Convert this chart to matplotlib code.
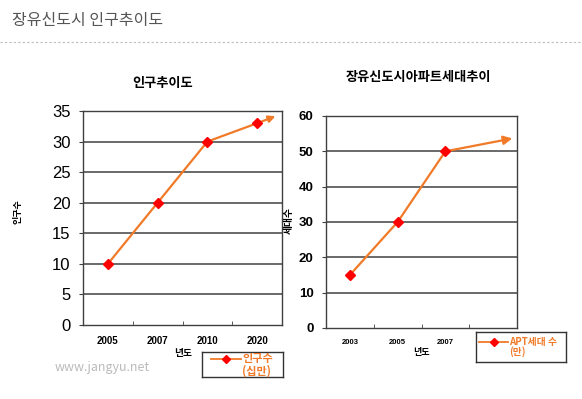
import matplotlib
matplotlib.use("Agg")
import matplotlib.pyplot as plt
from matplotlib.lines import Line2D

plt.rcParams['font.family'] = ['Noto Sans CJK KR', 'DejaVu Sans']

# ---- data ----
pop_years = ["2005", "2007", "2010", "2020"]
pop_values = [10, 20, 30, 33]
pop_arrow_end = 34.3          # value at arrow tip
apt_years = ["2003", "2005", "2007", ""]
apt_values = [15, 30, 50]
apt_arrow_end = 53.8

page_title = "장유신도시 인구추이도"
left_title = "인구추이도"
right_title = "장유신도시아파트세대추이"
left_ylabel = "인구수"
right_ylabel = "세대수"
xlabel = "년도"
left_legend = "인구수\n(십만)"
right_legend = "APT세대 수\n(만)"
watermark = "www.jangyu.net"

LINE = "#F07A28"
MARK = "#FF0000"
GRID = "#505050"

W, H = 582, 399
fig = plt.figure(figsize=(W / 100, H / 100), dpi=100)

def px_axes(x0, y0, x1, y1):
    return fig.add_axes([x0 / W, 1 - y1 / H, (x1 - x0) / W, (y1 - y0) / H])

# header
fig.text(12 / W, 1 - 21 / H, page_title, fontsize=11.5, color="#555555", va="center", ha="left")
fig.add_artist(Line2D([0, 1], [1 - 42 / H, 1 - 42 / H], transform=fig.transFigure,
                      color="#BBBBBB", lw=0.8, ls=(0, (2, 2))))
fig.text(55 / W, 1 - 368 / H, watermark, fontsize=9, color="#BBBBBB", va="center", ha="left")


def style_axes(ax, ymax, ystep, tick_fs, ytick_bold, xtick_fs):
    ax.set_xlim(-0.5, 3.5)
    ax.set_ylim(0, ymax)
    ax.set_yticks(range(0, ymax + 1, ystep))
    for y in range(ystep, ymax, ystep):
        ax.axhline(y, color=GRID, lw=1.2, zorder=1)
    for s in ax.spines.values():
        s.set_color("#404040")
        s.set_linewidth(1.0)
    ax.tick_params(axis="y", direction="out", length=3, labelsize=tick_fs, pad=6, color="#404040")
    ax.tick_params(axis="x", which="major", length=0, labelsize=xtick_fs, pad=8)
    ax.set_xticks([0.5, 1.5, 2.5], minor=True)
    ax.tick_params(axis="x", which="minor", direction="in", length=3, color="#404040")
    for t in ax.get_yticklabels():
        t.set_family(['Liberation Sans', 'DejaVu Sans'])
        if ytick_bold:
            t.set_fontweight("bold")


# ---- left chart ----
axL = px_axes(83, 111, 282, 325)
style_axes(axL, 35, 5, 12, False, 7)
axL.set_xticks(range(len(pop_years)))
axL.set_xticklabels(pop_years, fontweight="bold", family=['Liberation Sans', 'DejaVu Sans'])
xs = list(range(len(pop_values)))
axL.plot(xs, pop_values, color=LINE, lw=1.6, zorder=3)
axL.annotate("", xy=(3.42, pop_arrow_end), xytext=(xs[-1], pop_values[-1]),
             arrowprops=dict(arrowstyle="-|>", color=LINE, lw=1.6, mutation_scale=10), zorder=3)
axL.plot(xs, pop_values, ls="none", marker="D", ms=5.5, color=MARK, zorder=4)
fig.text(163 / W, 1 - 83 / H, left_title, fontsize=9.5, fontweight="bold", ha="center", va="center")
fig.text(18 / W, 1 - 212 / H, left_ylabel, fontsize=6.5, fontweight="bold", rotation=90,
         ha="center", va="center")
fig.text(183 / W, 1 - 353 / H, xlabel, fontsize=7, fontweight="bold", ha="center", va="center")

# ---- right chart ----
axR = px_axes(326, 116, 517, 328)
style_axes(axR, 60, 10, 9.5, True, 5.5)
axR.set_xticks(range(len(apt_years)))
axR.set_xticklabels(apt_years, fontweight="bold", family=['Liberation Sans', 'DejaVu Sans'])
xs2 = list(range(len(apt_values)))
axR.plot(xs2, apt_values, color=LINE, lw=1.6, zorder=3)
axR.annotate("", xy=(3.46, apt_arrow_end), xytext=(xs2[-1], apt_values[-1]),
             arrowprops=dict(arrowstyle="-|>", color=LINE, lw=1.6, mutation_scale=13), zorder=3)
axR.plot(xs2, apt_values, ls="none", marker="D", ms=5.5, color=MARK, zorder=4)
fig.text(418 / W, 1 - 77 / H, right_title, fontsize=9.5, fontweight="bold", ha="center", va="center")
fig.text(289 / W, 1 - 220 / H, right_ylabel, fontsize=7, fontweight="bold", rotation=90,
         ha="center", va="center")
fig.text(421 / W, 1 - 353 / H, xlabel, fontsize=6.5, fontweight="bold", ha="center", va="center")

# ---- legends (boxes placed in pixel coords) ----
def legend_box(x0, y0, x1, y1, text, tx, fs, line_x0, line_x1, ly):
    axb = px_axes(x0, y0, x1, y1)
    axb.set_xlim(x0, x1)
    axb.set_ylim(y1, y0)
    axb.set_xticks([])
    axb.set_yticks([])
    for s in axb.spines.values():
        s.set_color("#333333")
        s.set_linewidth(1.0)
    axb.plot([line_x0, line_x1], [ly, ly], color=LINE, lw=1.3)
    axb.plot([(line_x0 + line_x1) / 2], [ly], marker="D", ms=4.5, color=MARK, ls="none")
    axb.text(tx, (y0 + y1) / 2, text, color=LINE, fontsize=fs, fontweight="bold",
             ha="left", va="center", linespacing=0.95)

legend_box(202, 352, 283, 377, left_legend, 242, 8, 211, 241, 359)
legend_box(476, 332, 566, 362, right_legend, 509, 7, 479, 508, 342)

fig.savefig("out.png", dpi=100)
